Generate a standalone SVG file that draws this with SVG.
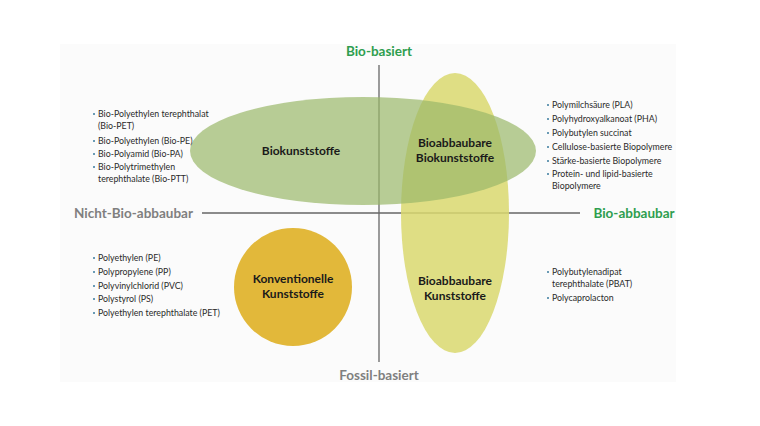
<svg xmlns="http://www.w3.org/2000/svg" width="760" height="426" viewBox="0 0 760 426">
<style>
text{font-family:Lato,"Open Sans","Liberation Sans",sans-serif}
.ax{font-size:13.5px;font-weight:bold}
.g{fill:#2e9e4f}.gr{fill:#7f7f7f}
.n{font-size:12px;font-weight:bold;fill:#1a1a1a;text-anchor:middle}
.l{font-size:8.8px;fill:#2a2a2a}
.b{fill:#6a9bb5}
</style>
<rect width="760" height="426" fill="#fff"/>
<rect x="60" y="44" width="616" height="338" fill="#fbfbfb"/>
<g id="connectors" stroke="#666" stroke-width="1.3">
<line x1="379" y1="65" x2="379" y2="362"/>
<line x1="202" y1="213" x2="580" y2="213"/>
</g>
<g id="bioabbaubare-kunststoffe"><ellipse cx="455" cy="213" rx="54" ry="140" fill="#d9d86e" fill-opacity="0.85"/><text class="n" x="455" y="285">Bioabbaubare</text><text class="n" x="455" y="300">Kunststoffe</text></g>
<g id="biokunststoffe"><ellipse cx="363" cy="151" rx="173" ry="54" fill="#9ab86a" fill-opacity="0.7"/><text class="n" x="301" y="155">Biokunststoffe</text></g>
<g id="bioabbaubare-biokunststoffe"><text class="n" x="455" y="147">Bioabbaubare</text><text class="n" x="455" y="162">Biokunststoffe</text></g>
<g id="konventionelle"><circle cx="293" cy="287" r="59" fill="#e2b83a"/><text class="n" x="293" y="283">Konventionelle</text><text class="n" x="293" y="298">Kunststoffe</text></g>
<g id="labels">
<text class="ax g" x="379" y="56" text-anchor="middle">Bio-basiert</text>
<text class="ax g" x="634" y="218" text-anchor="middle">Bio-abbaubar</text>
<text class="ax gr" x="74" y="218">Nicht-Bio-abbaubar</text>
<text class="ax gr" x="379" y="380" text-anchor="middle">Fossil-basiert</text>
</g>
<g id="list-tl">
<rect class="b" x="93" y="113" width="2" height="2"/><text class="l" x="98" y="117">Bio-Polyethylen terephthalat</text><text class="l" x="98" y="129">(Bio-PET)</text>
<rect class="b" x="93" y="140" width="2" height="2"/><text class="l" x="98" y="144">Bio-Polyethylen (Bio-PE)</text>
<rect class="b" x="93" y="153" width="2" height="2"/><text class="l" x="98" y="157">Bio-Polyamid (Bio-PA)</text>
<rect class="b" x="93" y="166" width="2" height="2"/><text class="l" x="98" y="170">Bio-Polytrimethylen</text><text class="l" x="98" y="182">terephthalate (Bio-PTT)</text>
</g>
<g id="list-bl">
<rect class="b" x="93" y="257" width="2" height="2"/><text class="l" x="98" y="261">Polyethylen (PE)</text>
<rect class="b" x="93" y="271" width="2" height="2"/><text class="l" x="98" y="275">Polypropylene (PP)</text>
<rect class="b" x="93" y="285" width="2" height="2"/><text class="l" x="98" y="289">Polyvinylchlorid (PVC)</text>
<rect class="b" x="93" y="298" width="2" height="2"/><text class="l" x="98" y="302">Polystyrol (PS)</text>
<rect class="b" x="93" y="312" width="2" height="2"/><text class="l" x="98" y="316">Polyethylen terephthalate (PET)</text>
</g>
<g id="list-tr">
<rect class="b" x="547" y="104" width="2" height="2"/><text class="l" x="552" y="108">Polymilchsäure (PLA)</text>
<rect class="b" x="547" y="118" width="2" height="2"/><text class="l" x="552" y="122">Polyhydroxyalkanoat (PHA)</text>
<rect class="b" x="547" y="132" width="2" height="2"/><text class="l" x="552" y="136">Polybutylen succinat</text>
<rect class="b" x="547" y="146" width="2" height="2"/><text class="l" x="552" y="150">Cellulose-basierte Biopolymere</text>
<rect class="b" x="547" y="160" width="2" height="2"/><text class="l" x="552" y="164">Stärke-basierte Biopolymere</text>
<rect class="b" x="547" y="173" width="2" height="2"/><text class="l" x="552" y="177">Protein- und lipid-basierte</text><text class="l" x="552" y="189">Biopolymere</text>
</g>
<g id="list-br">
<rect class="b" x="547" y="271" width="2" height="2"/><text class="l" x="552" y="275">Polybutylenadipat</text><text class="l" x="552" y="287">terephthalate (PBAT)</text>
<rect class="b" x="547" y="297" width="2" height="2"/><text class="l" x="552" y="301">Polycaprolacton</text>
</g>
</svg>
